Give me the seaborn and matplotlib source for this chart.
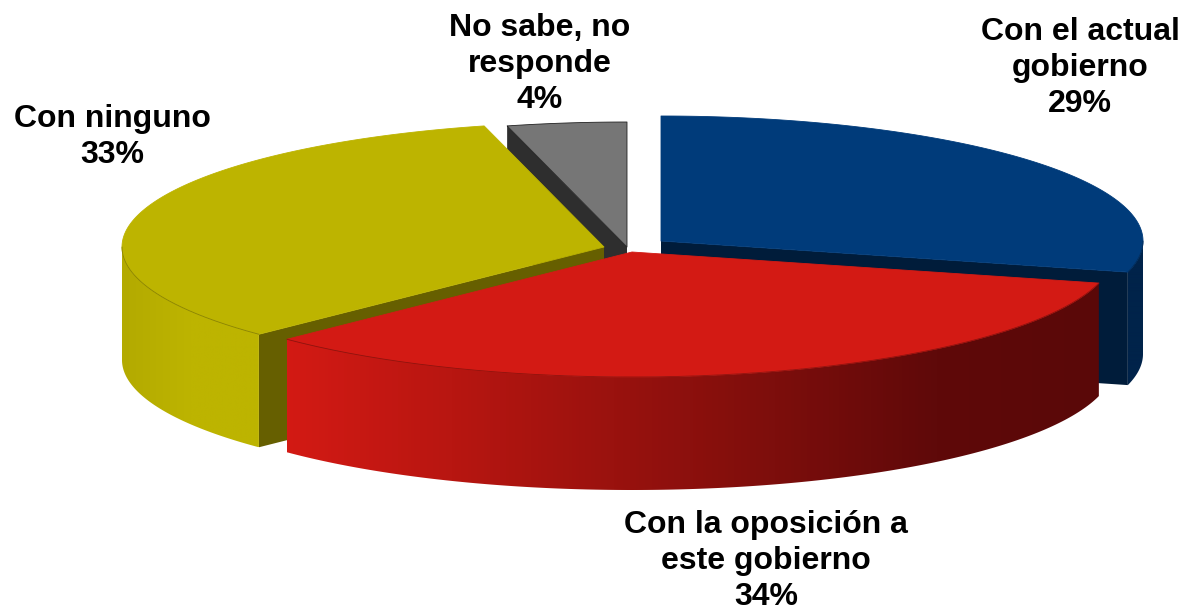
import numpy as np
import seaborn as sns
import matplotlib.pyplot as plt
from matplotlib.patches import Polygon

# Share of answers, clockwise from 12 o'clock
categories = ['Con el actual\ngobierno', 'Con la oposición a\neste gobierno', 'Con ninguno', 'No sabe, no\nresponde']
values = [29, 33.7, 33.3, 4]

# Look of each slice, all in pixels of the 1184x611 picture
centers = [(661, 241), (632, 252), (604, 247), (627, 247)]
top_colors = ['#003b7a', '#d31a14', '#bdb400', '#767676']
wall_colors = ['#001c3a', '#5a0808', '#665f00', '#2e2e2e']
arc_colors = [['#00234a', '#00234a'],
              ['#d31a14', '#b81611', '#9a120e', '#7d0e0c', '#5f0909', '#5a0808'],
              ['#b3aa00', '#bdb400', '#bdb400'], ['#2e2e2e', '#2e2e2e']]
edge_colors = ['#002a58', '#8f120e', '#8a8300', '#222222']
label_pos = [(1080, 68), (766, 561), (112, 137), (540, 64)]
RX, RY, DEPTH = 482, 125, 113

sns.set_theme(style='white')
plt.rcParams['font.family'] = ['Liberation Sans', 'DejaVu Sans']

fig = plt.figure(figsize=(11.84, 6.11), dpi=100)
ax = fig.add_axes([0, 0, 1, 1])
ax.set_xlim(0, 1184)
ax.set_ylim(611, 0)
ax.axis('off')


def rim(center, t0, t1):
    t = np.radians(np.linspace(t0, t1, 200))
    return np.column_stack([center[0] + RX * np.sin(t), center[1] - RY * np.cos(t)])


def draw_slice(i, t0, t1, z):
    c = centers[i]
    arc = rim(c, t0, t1)

    # cut faces that look towards the viewer
    ends = {0: [arc[-1]], 1: [], 2: [arc[0]], 3: [arc[0]]}[i]
    for end in ends:
        wall = [c, end, end + [0, DEPTH], np.array(c) + [0, DEPTH]]
        ax.add_patch(Polygon(wall, fc=wall_colors[i], ec='none', zorder=z))

    # outer wall with its horizontal gradient
    lo, hi = max(t0, 90), min(t1, 270)
    if hi > lo:
        front = rim(c, lo, hi)
        outline = np.vstack([front, front[::-1] + [0, DEPTH]])
        patch = Polygon(outline, fc='none', ec='none', zorder=z + 1)
        ax.add_patch(patch)
        cmap = sns.blend_palette(arc_colors[i], as_cmap=True)
        x0, x1 = outline[:, 0].min(), outline[:, 0].max()
        y0, y1 = outline[:, 1].min(), outline[:, 1].max()
        img = ax.imshow(np.linspace(0, 1, 256)[None, :], cmap=cmap, aspect='auto',
                        extent=(x0, x1, y1, y0), zorder=z + 1)
        img.set_clip_path(patch)

    # top face, only the grey one is outlined all round
    ec = edge_colors[i] if i == 3 else top_colors[i]
    ax.add_patch(Polygon(np.vstack([[c], arc]), fc=top_colors[i], ec=ec,
                         lw=0.6, joinstyle='round', zorder=z + 2))
    if hi > lo:
        ax.plot(front[:, 0], front[:, 1], color=edge_colors[i], lw=0.6, zorder=z + 2)


starts = np.cumsum([0] + values[:-1]) * 3.6
stops = np.cumsum(values) * 3.6
# back slices first so the front ones cover them
for z, i in enumerate([3, 0, 2, 1]):
    draw_slice(i, starts[i], stops[i], z * 3 + 1)

ax.set_xlim(0, 1184)
ax.set_ylim(611, 0)

for name, val, (x, y) in zip(categories, values, label_pos):
    ax.text(x, y, f'{name}\n{val:.0f}%', ha='center', va='center', fontsize=23,
            fontweight='bold', color='black', linespacing=1.27, zorder=30)

fig.savefig('out.png', dpi=100, facecolor='white')
